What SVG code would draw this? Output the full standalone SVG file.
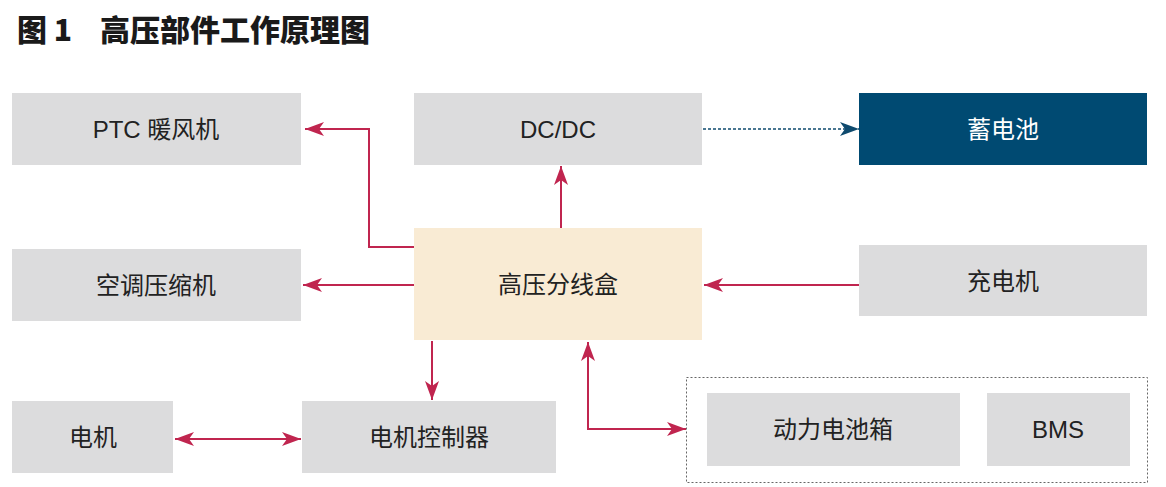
<svg xmlns="http://www.w3.org/2000/svg" width="1166" height="487" viewBox="0 0 1166 487">
<style>
.box{fill:#dcdcdd}
.lbl{font-family:"Liberation Sans","Noto Sans CJK SC",sans-serif;font-size:24px;fill:#222;text-anchor:middle;dominant-baseline:central}
.title{font-family:"Noto Sans CJK SC",sans-serif;font-size:30px;font-weight:900;fill:#1a1a1a}
.ln{fill:none;stroke:#c0254f;stroke-width:2}
</style>
<defs>
<marker id="ar" markerUnits="userSpaceOnUse" markerWidth="20" markerHeight="16" refX="19" refY="7" orient="auto-start-reverse" viewBox="0 0 20 14">
<path d="M0,0 L19,7 L0,14 L5,7 z" fill="#c0254f"/>
</marker>
<marker id="ab" markerUnits="userSpaceOnUse" markerWidth="20" markerHeight="16" refX="19" refY="7" orient="auto" viewBox="0 0 20 14">
<path d="M0,0 L19,7 L0,14 L5,7 z" fill="#0e4a6e"/>
</marker>
</defs>
<rect width="1166" height="487" fill="#fff"/>
<text class="title" x="17" y="41">图 1</text>
<text class="title" x="100" y="41">高压部件工作原理图</text>
<g id="ptc"><rect class="box" x="12" y="93" width="289" height="72"/><text class="lbl" x="156" y="129">PTC 暖风机</text></g>
<g id="dcdc"><rect class="box" x="414" y="93" width="288" height="72"/><text class="lbl" x="558" y="129">DC/DC</text></g>
<g id="battery"><rect x="859" y="93" width="288" height="72" fill="#004a72"/><text class="lbl" x="1003" y="129" style="fill:#fff">蓄电池</text></g>
<g id="ac"><rect class="box" x="12" y="249" width="289" height="72"/><text class="lbl" x="156" y="285">空调压缩机</text></g>
<g id="hvbox"><rect x="414" y="228" width="288" height="112" fill="#f9ebd4"/><text class="lbl" x="558" y="284">高压分线盒</text></g>
<g id="charger"><rect class="box" x="859" y="245" width="288" height="71"/><text class="lbl" x="1003" y="281">充电机</text></g>
<g id="motor"><rect class="box" x="12" y="401" width="161" height="72"/><text class="lbl" x="93" y="437">电机</text></g>
<g id="mcu"><rect class="box" x="302" y="401" width="254" height="72"/><text class="lbl" x="429" y="437">电机控制器</text></g>
<g id="pack">
<rect x="686.5" y="377.5" width="461" height="105" fill="none" stroke="#666" stroke-width="1" stroke-dasharray="2,2"/>
<g id="packbox"><rect class="box" x="707" y="393" width="253" height="73"/><text class="lbl" x="833" y="429">动力电池箱</text></g>
<g id="bms"><rect class="box" x="987" y="393" width="143" height="73"/><text class="lbl" x="1058" y="429">BMS</text></g>
</g>
<g id="connectors">
<path class="ln" d="M414,247 H369 V129 H305" marker-end="url(#ar)"/>
<path class="ln" d="M561,228 V166" marker-end="url(#ar)"/>
<path d="M703,129 H859" fill="none" stroke="#0e4a6e" stroke-width="1.5" stroke-dasharray="3,2" marker-end="url(#ab)"/>
<path class="ln" d="M414,285 H303" marker-end="url(#ar)"/>
<path class="ln" d="M859,285 H704" marker-end="url(#ar)"/>
<path class="ln" d="M432,341 V400" marker-end="url(#ar)"/>
<path class="ln" d="M588,342 V429 H686" marker-start="url(#ar)" marker-end="url(#ar)"/>
<path class="ln" d="M175,439 H301" marker-start="url(#ar)" marker-end="url(#ar)"/>
</g>
</svg>
